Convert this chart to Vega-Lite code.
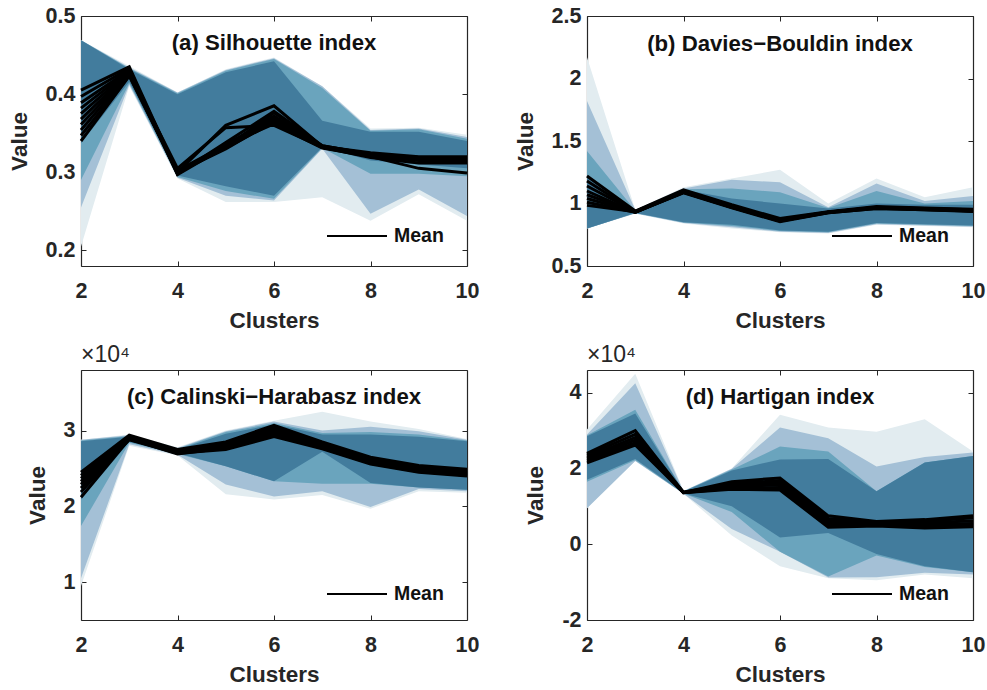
{
  "$schema": "https://vega.github.io/schema/vega-lite/v6.json",
  "background": "white",
  "padding": {"left": 8, "top": 5, "right": 10, "bottom": 5},
  "config": {
    "font": "Liberation Sans",
    "view": {"stroke": null},
    "axis": {
      "grid": false,
      "domainColor": "#262626",
      "domainWidth": 1.2,
      "tickColor": "#262626",
      "tickSize": -5,
      "tickWidth": 1,
      "labelFlush": false,
      "labelColor": "#262626",
      "labelFontSize": 21.5,
      "labelFontWeight": "bold",
      "titleColor": "#262626",
      "titleFontSize": 22.5,
      "titleFontWeight": "bold"
    },
    "legend": {
      "orient": "none",
      "padding": 0,
      "symbolType": "stroke",
      "symbolSize": 3600,
      "symbolStrokeWidth": 2,
      "labelFontSize": 19.5,
      "labelFontWeight": "bold",
      "labelColor": "#111111",
      "labelOffset": 6,
      "title": null
    }
  },
  "datasets": {
    "bands": [
      {"panel":"a","band":"b1","k":2,"lo":0.205,"hi":0.469},{"panel":"a","band":"b1","k":3,"lo":0.41,"hi":0.436},{"panel":"a","band":"b1","k":4,"lo":0.292,"hi":0.402},{"panel":"a","band":"b1","k":5,"lo":0.262,"hi":0.432},{"panel":"a","band":"b1","k":6,"lo":0.262,"hi":0.447},{"panel":"a","band":"b1","k":7,"lo":0.268,"hi":0.41},{"panel":"a","band":"b1","k":8,"lo":0.238,"hi":0.356},{"panel":"a","band":"b1","k":9,"lo":0.272,"hi":0.357},{"panel":"a","band":"b1","k":10,"lo":0.238,"hi":0.348},
      {"panel":"a","band":"b2","k":2,"lo":0.255,"hi":0.469},{"panel":"a","band":"b2","k":3,"lo":0.412,"hi":0.434},{"panel":"a","band":"b2","k":4,"lo":0.293,"hi":0.402},{"panel":"a","band":"b2","k":5,"lo":0.27,"hi":0.431},{"panel":"a","band":"b2","k":6,"lo":0.264,"hi":0.446},{"panel":"a","band":"b2","k":7,"lo":0.33,"hi":0.41},{"panel":"a","band":"b2","k":8,"lo":0.247,"hi":0.354},{"panel":"a","band":"b2","k":9,"lo":0.278,"hi":0.356},{"panel":"a","band":"b2","k":10,"lo":0.244,"hi":0.345},
      {"panel":"a","band":"b3","k":2,"lo":0.29,"hi":0.469},{"panel":"a","band":"b3","k":3,"lo":0.414,"hi":0.433},{"panel":"a","band":"b3","k":4,"lo":0.294,"hi":0.401},{"panel":"a","band":"b3","k":5,"lo":0.276,"hi":0.43},{"panel":"a","band":"b3","k":6,"lo":0.266,"hi":0.445},{"panel":"a","band":"b3","k":7,"lo":0.331,"hi":0.408},{"panel":"a","band":"b3","k":8,"lo":0.298,"hi":0.353},{"panel":"a","band":"b3","k":9,"lo":0.298,"hi":0.355},{"panel":"a","band":"b3","k":10,"lo":0.295,"hi":0.343},
      {"panel":"a","band":"b4","k":2,"lo":0.337,"hi":0.469},{"panel":"a","band":"b4","k":3,"lo":0.416,"hi":0.432},{"panel":"a","band":"b4","k":4,"lo":0.296,"hi":0.4},{"panel":"a","band":"b4","k":5,"lo":0.282,"hi":0.428},{"panel":"a","band":"b4","k":6,"lo":0.27,"hi":0.442},{"panel":"a","band":"b4","k":7,"lo":0.332,"hi":0.366},{"panel":"a","band":"b4","k":8,"lo":0.315,"hi":0.352},{"panel":"a","band":"b4","k":9,"lo":0.31,"hi":0.352},{"panel":"a","band":"b4","k":10,"lo":0.305,"hi":0.34},

      {"panel":"b","band":"b1","k":2,"lo":0.8,"hi":2.17},{"panel":"b","band":"b1","k":3,"lo":0.92,"hi":0.95},{"panel":"b","band":"b1","k":4,"lo":0.84,"hi":1.13},{"panel":"b","band":"b1","k":5,"lo":0.8,"hi":1.2},{"panel":"b","band":"b1","k":6,"lo":0.77,"hi":1.27},{"panel":"b","band":"b1","k":7,"lo":0.76,"hi":1.0},{"panel":"b","band":"b1","k":8,"lo":0.83,"hi":1.2},{"panel":"b","band":"b1","k":9,"lo":0.82,"hi":1.05},{"panel":"b","band":"b1","k":10,"lo":0.81,"hi":1.13},
      {"panel":"b","band":"b2","k":2,"lo":0.8,"hi":1.82},{"panel":"b","band":"b2","k":3,"lo":0.92,"hi":0.95},{"panel":"b","band":"b2","k":4,"lo":0.845,"hi":1.12},{"panel":"b","band":"b2","k":5,"lo":0.81,"hi":1.19},{"panel":"b","band":"b2","k":6,"lo":0.775,"hi":1.17},{"panel":"b","band":"b2","k":7,"lo":0.765,"hi":0.97},{"panel":"b","band":"b2","k":8,"lo":0.835,"hi":1.16},{"panel":"b","band":"b2","k":9,"lo":0.825,"hi":1.02},{"panel":"b","band":"b2","k":10,"lo":0.815,"hi":1.06},
      {"panel":"b","band":"b3","k":2,"lo":0.8,"hi":1.42},{"panel":"b","band":"b3","k":3,"lo":0.925,"hi":0.945},{"panel":"b","band":"b3","k":4,"lo":0.848,"hi":1.115},{"panel":"b","band":"b3","k":5,"lo":0.82,"hi":1.12},{"panel":"b","band":"b3","k":6,"lo":0.78,"hi":1.09},{"panel":"b","band":"b3","k":7,"lo":0.77,"hi":0.965},{"panel":"b","band":"b3","k":8,"lo":0.84,"hi":1.1},{"panel":"b","band":"b3","k":9,"lo":0.83,"hi":1.0},{"panel":"b","band":"b3","k":10,"lo":0.82,"hi":1.02},
      {"panel":"b","band":"b4","k":2,"lo":0.8,"hi":1.22},{"panel":"b","band":"b4","k":3,"lo":0.925,"hi":0.945},{"panel":"b","band":"b4","k":4,"lo":0.85,"hi":1.11},{"panel":"b","band":"b4","k":5,"lo":0.83,"hi":1.04},{"panel":"b","band":"b4","k":6,"lo":0.785,"hi":1.0},{"panel":"b","band":"b4","k":7,"lo":0.775,"hi":0.96},{"panel":"b","band":"b4","k":8,"lo":0.845,"hi":1.0},{"panel":"b","band":"b4","k":9,"lo":0.835,"hi":0.99},{"panel":"b","band":"b4","k":10,"lo":0.825,"hi":0.99},

      {"panel":"c","band":"b1","k":2,"lo":9500,"hi":28800},{"panel":"c","band":"b1","k":3,"lo":28000,"hi":29500},{"panel":"c","band":"b1","k":4,"lo":26700,"hi":27800},{"panel":"c","band":"b1","k":5,"lo":21600,"hi":30000},{"panel":"c","band":"b1","k":6,"lo":20900,"hi":31300},{"panel":"c","band":"b1","k":7,"lo":21500,"hi":32500},{"panel":"c","band":"b1","k":8,"lo":19700,"hi":31200},{"panel":"c","band":"b1","k":9,"lo":22000,"hi":30200},{"panel":"c","band":"b1","k":10,"lo":21800,"hi":28900},
      {"panel":"c","band":"b2","k":2,"lo":10500,"hi":28800},{"panel":"c","band":"b2","k":3,"lo":28200,"hi":29400},{"panel":"c","band":"b2","k":4,"lo":26800,"hi":27700},{"panel":"c","band":"b2","k":5,"lo":22900,"hi":29900},{"panel":"c","band":"b2","k":6,"lo":21300,"hi":31200},{"panel":"c","band":"b2","k":7,"lo":22000,"hi":30000},{"panel":"c","band":"b2","k":8,"lo":19900,"hi":30500},{"panel":"c","band":"b2","k":9,"lo":22300,"hi":29900},{"panel":"c","band":"b2","k":10,"lo":22000,"hi":28800},
      {"panel":"c","band":"b3","k":2,"lo":17400,"hi":28700},{"panel":"c","band":"b3","k":3,"lo":28400,"hi":29300},{"panel":"c","band":"b3","k":4,"lo":26900,"hi":27600},{"panel":"c","band":"b3","k":5,"lo":25300,"hi":29800},{"panel":"c","band":"b3","k":6,"lo":23300,"hi":31000},{"panel":"c","band":"b3","k":7,"lo":23000,"hi":29700},{"panel":"c","band":"b3","k":8,"lo":23000,"hi":29800},{"panel":"c","band":"b3","k":9,"lo":22500,"hi":29500},{"panel":"c","band":"b3","k":10,"lo":22200,"hi":28700},
      {"panel":"c","band":"b4","k":2,"lo":20900,"hi":28600},{"panel":"c","band":"b4","k":3,"lo":28500,"hi":29200},{"panel":"c","band":"b4","k":4,"lo":27000,"hi":27500},{"panel":"c","band":"b4","k":5,"lo":25300,"hi":29600},{"panel":"c","band":"b4","k":6,"lo":23300,"hi":30800},{"panel":"c","band":"b4","k":7,"lo":27200,"hi":29500},{"panel":"c","band":"b4","k":8,"lo":23100,"hi":29500},{"panel":"c","band":"b4","k":9,"lo":22500,"hi":29200},{"panel":"c","band":"b4","k":10,"lo":22200,"hi":28600},

      {"panel":"d","band":"b1","k":2,"lo":9500,"hi":30300},{"panel":"d","band":"b1","k":3,"lo":22000,"hi":45000},{"panel":"d","band":"b1","k":4,"lo":13300,"hi":14100},{"panel":"d","band":"b1","k":5,"lo":2300,"hi":20000},{"panel":"d","band":"b1","k":6,"lo":-5800,"hi":34200},{"panel":"d","band":"b1","k":7,"lo":-9000,"hi":30800},{"panel":"d","band":"b1","k":8,"lo":-9500,"hi":29700},{"panel":"d","band":"b1","k":9,"lo":-8000,"hi":33000},{"panel":"d","band":"b1","k":10,"lo":-9000,"hi":24500},
      {"panel":"d","band":"b2","k":2,"lo":9500,"hi":29000},{"panel":"d","band":"b2","k":3,"lo":22000,"hi":42500},{"panel":"d","band":"b2","k":4,"lo":13300,"hi":14000},{"panel":"d","band":"b2","k":5,"lo":4000,"hi":19900},{"panel":"d","band":"b2","k":6,"lo":-2000,"hi":30800},{"panel":"d","band":"b2","k":7,"lo":-8800,"hi":28000},{"panel":"d","band":"b2","k":8,"lo":-8700,"hi":20500},{"panel":"d","band":"b2","k":9,"lo":-7500,"hi":23000},{"panel":"d","band":"b2","k":10,"lo":-8000,"hi":24200},
      {"panel":"d","band":"b3","k":2,"lo":16500,"hi":28800},{"panel":"d","band":"b3","k":3,"lo":22200,"hi":35500},{"panel":"d","band":"b3","k":4,"lo":13400,"hi":14000},{"panel":"d","band":"b3","k":5,"lo":8500,"hi":19700},{"panel":"d","band":"b3","k":6,"lo":-2000,"hi":25800},{"panel":"d","band":"b3","k":7,"lo":-8500,"hi":24500},{"panel":"d","band":"b3","k":8,"lo":-3000,"hi":14000},{"panel":"d","band":"b3","k":9,"lo":-6000,"hi":21600},{"panel":"d","band":"b3","k":10,"lo":-7400,"hi":23300},
      {"panel":"d","band":"b4","k":2,"lo":17000,"hi":28500},{"panel":"d","band":"b4","k":3,"lo":22500,"hi":34500},{"panel":"d","band":"b4","k":4,"lo":13400,"hi":13900},{"panel":"d","band":"b4","k":5,"lo":10000,"hi":19500},{"panel":"d","band":"b4","k":6,"lo":1800,"hi":22400},{"panel":"d","band":"b4","k":7,"lo":3000,"hi":22500},{"panel":"d","band":"b4","k":8,"lo":-2600,"hi":14000},{"panel":"d","band":"b4","k":9,"lo":-5800,"hi":21600},{"panel":"d","band":"b4","k":10,"lo":-7400,"hi":23300}
    ],
    "means": [
      {"panel":"a","run":1,"k":2,"v":0.405},{"panel":"a","run":1,"k":3,"v":0.435},{"panel":"a","run":1,"k":4,"v":0.3},{"panel":"a","run":1,"k":5,"v":0.36},{"panel":"a","run":1,"k":6,"v":0.385},{"panel":"a","run":1,"k":7,"v":0.333},{"panel":"a","run":1,"k":8,"v":0.325},{"panel":"a","run":1,"k":9,"v":0.32},{"panel":"a","run":1,"k":10,"v":0.32},
      {"panel":"a","run":2,"k":2,"v":0.397},{"panel":"a","run":2,"k":3,"v":0.433},{"panel":"a","run":2,"k":4,"v":0.298},{"panel":"a","run":2,"k":5,"v":0.338},{"panel":"a","run":2,"k":6,"v":0.378},{"panel":"a","run":2,"k":7,"v":0.334},{"panel":"a","run":2,"k":8,"v":0.323},{"panel":"a","run":2,"k":9,"v":0.318},{"panel":"a","run":2,"k":10,"v":0.316},
      {"panel":"a","run":3,"k":2,"v":0.389},{"panel":"a","run":3,"k":3,"v":0.431},{"panel":"a","run":3,"k":4,"v":0.297},{"panel":"a","run":3,"k":5,"v":0.333},{"panel":"a","run":3,"k":6,"v":0.372},{"panel":"a","run":3,"k":7,"v":0.332},{"panel":"a","run":3,"k":8,"v":0.322},{"panel":"a","run":3,"k":9,"v":0.316},{"panel":"a","run":3,"k":10,"v":0.314},
      {"panel":"a","run":4,"k":2,"v":0.382},{"panel":"a","run":4,"k":3,"v":0.43},{"panel":"a","run":4,"k":4,"v":0.3},{"panel":"a","run":4,"k":5,"v":0.33},{"panel":"a","run":4,"k":6,"v":0.366},{"panel":"a","run":4,"k":7,"v":0.333},{"panel":"a","run":4,"k":8,"v":0.321},{"panel":"a","run":4,"k":9,"v":0.317},{"panel":"a","run":4,"k":10,"v":0.318},
      {"panel":"a","run":5,"k":2,"v":0.375},{"panel":"a","run":5,"k":3,"v":0.429},{"panel":"a","run":5,"k":4,"v":0.302},{"panel":"a","run":5,"k":5,"v":0.335},{"panel":"a","run":5,"k":6,"v":0.362},{"panel":"a","run":5,"k":7,"v":0.331},{"panel":"a","run":5,"k":8,"v":0.32},{"panel":"a","run":5,"k":9,"v":0.305},{"panel":"a","run":5,"k":10,"v":0.299},
      {"panel":"a","run":6,"k":2,"v":0.368},{"panel":"a","run":6,"k":3,"v":0.428},{"panel":"a","run":6,"k":4,"v":0.305},{"panel":"a","run":6,"k":5,"v":0.357},{"panel":"a","run":6,"k":6,"v":0.36},{"panel":"a","run":6,"k":7,"v":0.332},{"panel":"a","run":6,"k":8,"v":0.319},{"panel":"a","run":6,"k":9,"v":0.312},{"panel":"a","run":6,"k":10,"v":0.312},
      {"panel":"a","run":7,"k":2,"v":0.361},{"panel":"a","run":7,"k":3,"v":0.427},{"panel":"a","run":7,"k":4,"v":0.299},{"panel":"a","run":7,"k":5,"v":0.332},{"panel":"a","run":7,"k":6,"v":0.376},{"panel":"a","run":7,"k":7,"v":0.333},{"panel":"a","run":7,"k":8,"v":0.322},{"panel":"a","run":7,"k":9,"v":0.319},{"panel":"a","run":7,"k":10,"v":0.317},
      {"panel":"a","run":8,"k":2,"v":0.354},{"panel":"a","run":8,"k":3,"v":0.426},{"panel":"a","run":8,"k":4,"v":0.298},{"panel":"a","run":8,"k":5,"v":0.336},{"panel":"a","run":8,"k":6,"v":0.368},{"panel":"a","run":8,"k":7,"v":0.332},{"panel":"a","run":8,"k":8,"v":0.321},{"panel":"a","run":8,"k":9,"v":0.315},{"panel":"a","run":8,"k":10,"v":0.315},
      {"panel":"a","run":9,"k":2,"v":0.347},{"panel":"a","run":9,"k":3,"v":0.424},{"panel":"a","run":9,"k":4,"v":0.301},{"panel":"a","run":9,"k":5,"v":0.331},{"panel":"a","run":9,"k":6,"v":0.364},{"panel":"a","run":9,"k":7,"v":0.334},{"panel":"a","run":9,"k":8,"v":0.323},{"panel":"a","run":9,"k":9,"v":0.318},{"panel":"a","run":9,"k":10,"v":0.319},
      {"panel":"a","run":10,"k":2,"v":0.34},{"panel":"a","run":10,"k":3,"v":0.423},{"panel":"a","run":10,"k":4,"v":0.3},{"panel":"a","run":10,"k":5,"v":0.334},{"panel":"a","run":10,"k":6,"v":0.37},{"panel":"a","run":10,"k":7,"v":0.333},{"panel":"a","run":10,"k":8,"v":0.322},{"panel":"a","run":10,"k":9,"v":0.317},{"panel":"a","run":10,"k":10,"v":0.316},

      {"panel":"b","run":1,"k":2,"v":1.22},{"panel":"b","run":1,"k":3,"v":0.94},{"panel":"b","run":1,"k":4,"v":1.11},{"panel":"b","run":1,"k":5,"v":0.99},{"panel":"b","run":1,"k":6,"v":0.88},{"panel":"b","run":1,"k":7,"v":0.935},{"panel":"b","run":1,"k":8,"v":0.975},{"panel":"b","run":1,"k":9,"v":0.965},{"panel":"b","run":1,"k":10,"v":0.955},
      {"panel":"b","run":2,"k":2,"v":1.18},{"panel":"b","run":2,"k":3,"v":0.935},{"panel":"b","run":2,"k":4,"v":1.1},{"panel":"b","run":2,"k":5,"v":0.98},{"panel":"b","run":2,"k":6,"v":0.87},{"panel":"b","run":2,"k":7,"v":0.93},{"panel":"b","run":2,"k":8,"v":0.97},{"panel":"b","run":2,"k":9,"v":0.96},{"panel":"b","run":2,"k":10,"v":0.95},
      {"panel":"b","run":3,"k":2,"v":1.14},{"panel":"b","run":3,"k":3,"v":0.935},{"panel":"b","run":3,"k":4,"v":1.095},{"panel":"b","run":3,"k":5,"v":0.975},{"panel":"b","run":3,"k":6,"v":0.865},{"panel":"b","run":3,"k":7,"v":0.93},{"panel":"b","run":3,"k":8,"v":0.965},{"panel":"b","run":3,"k":9,"v":0.955},{"panel":"b","run":3,"k":10,"v":0.945},
      {"panel":"b","run":4,"k":2,"v":1.1},{"panel":"b","run":4,"k":3,"v":0.93},{"panel":"b","run":4,"k":4,"v":1.09},{"panel":"b","run":4,"k":5,"v":0.97},{"panel":"b","run":4,"k":6,"v":0.86},{"panel":"b","run":4,"k":7,"v":0.925},{"panel":"b","run":4,"k":8,"v":0.96},{"panel":"b","run":4,"k":9,"v":0.95},{"panel":"b","run":4,"k":10,"v":0.94},
      {"panel":"b","run":5,"k":2,"v":1.07},{"panel":"b","run":5,"k":3,"v":0.93},{"panel":"b","run":5,"k":4,"v":1.085},{"panel":"b","run":5,"k":5,"v":0.965},{"panel":"b","run":5,"k":6,"v":0.855},{"panel":"b","run":5,"k":7,"v":0.925},{"panel":"b","run":5,"k":8,"v":0.96},{"panel":"b","run":5,"k":9,"v":0.95},{"panel":"b","run":5,"k":10,"v":0.935},
      {"panel":"b","run":6,"k":2,"v":1.04},{"panel":"b","run":6,"k":3,"v":0.93},{"panel":"b","run":6,"k":4,"v":1.09},{"panel":"b","run":6,"k":5,"v":0.97},{"panel":"b","run":6,"k":6,"v":0.86},{"panel":"b","run":6,"k":7,"v":0.93},{"panel":"b","run":6,"k":8,"v":0.965},{"panel":"b","run":6,"k":9,"v":0.955},{"panel":"b","run":6,"k":10,"v":0.94},
      {"panel":"b","run":7,"k":2,"v":1.01},{"panel":"b","run":7,"k":3,"v":0.93},{"panel":"b","run":7,"k":4,"v":1.095},{"panel":"b","run":7,"k":5,"v":0.975},{"panel":"b","run":7,"k":6,"v":0.865},{"panel":"b","run":7,"k":7,"v":0.93},{"panel":"b","run":7,"k":8,"v":0.968},{"panel":"b","run":7,"k":9,"v":0.958},{"panel":"b","run":7,"k":10,"v":0.945},
      {"panel":"b","run":8,"k":2,"v":0.985},{"panel":"b","run":8,"k":3,"v":0.935},{"panel":"b","run":8,"k":4,"v":1.1},{"panel":"b","run":8,"k":5,"v":0.98},{"panel":"b","run":8,"k":6,"v":0.87},{"panel":"b","run":8,"k":7,"v":0.932},{"panel":"b","run":8,"k":8,"v":0.965},{"panel":"b","run":8,"k":9,"v":0.952},{"panel":"b","run":8,"k":10,"v":0.942},

      {"panel":"c","run":1,"k":2,"v":24500},{"panel":"c","run":1,"k":3,"v":29400},{"panel":"c","run":1,"k":4,"v":27500},{"panel":"c","run":1,"k":5,"v":28500},{"panel":"c","run":1,"k":6,"v":30700},{"panel":"c","run":1,"k":7,"v":28500},{"panel":"c","run":1,"k":8,"v":26500},{"panel":"c","run":1,"k":9,"v":25400},{"panel":"c","run":1,"k":10,"v":24900},
      {"panel":"c","run":2,"k":2,"v":24100},{"panel":"c","run":2,"k":3,"v":29250},{"panel":"c","run":2,"k":4,"v":27300},{"panel":"c","run":2,"k":5,"v":28300},{"panel":"c","run":2,"k":6,"v":30400},{"panel":"c","run":2,"k":7,"v":28300},{"panel":"c","run":2,"k":8,"v":26300},{"panel":"c","run":2,"k":9,"v":25200},{"panel":"c","run":2,"k":10,"v":24700},
      {"panel":"c","run":3,"k":2,"v":23700},{"panel":"c","run":3,"k":3,"v":29100},{"panel":"c","run":3,"k":4,"v":27150},{"panel":"c","run":3,"k":5,"v":28100},{"panel":"c","run":3,"k":6,"v":30100},{"panel":"c","run":3,"k":7,"v":28100},{"panel":"c","run":3,"k":8,"v":26100},{"panel":"c","run":3,"k":9,"v":25000},{"panel":"c","run":3,"k":10,"v":24500},
      {"panel":"c","run":4,"k":2,"v":23300},{"panel":"c","run":4,"k":3,"v":29000},{"panel":"c","run":4,"k":4,"v":27000},{"panel":"c","run":4,"k":5,"v":27900},{"panel":"c","run":4,"k":6,"v":29800},{"panel":"c","run":4,"k":7,"v":27900},{"panel":"c","run":4,"k":8,"v":25900},{"panel":"c","run":4,"k":9,"v":24800},{"panel":"c","run":4,"k":10,"v":24300},
      {"panel":"c","run":5,"k":2,"v":22900},{"panel":"c","run":5,"k":3,"v":28900},{"panel":"c","run":5,"k":4,"v":26900},{"panel":"c","run":5,"k":5,"v":27700},{"panel":"c","run":5,"k":6,"v":29400},{"panel":"c","run":5,"k":7,"v":27700},{"panel":"c","run":5,"k":8,"v":25700},{"panel":"c","run":5,"k":9,"v":24600},{"panel":"c","run":5,"k":10,"v":24100},
      {"panel":"c","run":6,"k":2,"v":22400},{"panel":"c","run":6,"k":3,"v":28800},{"panel":"c","run":6,"k":4,"v":27000},{"panel":"c","run":6,"k":5,"v":27500},{"panel":"c","run":6,"k":6,"v":29200},{"panel":"c","run":6,"k":7,"v":27600},{"panel":"c","run":6,"k":8,"v":25600},{"panel":"c","run":6,"k":9,"v":24500},{"panel":"c","run":6,"k":10,"v":24000},
      {"panel":"c","run":7,"k":2,"v":21900},{"panel":"c","run":7,"k":3,"v":28850},{"panel":"c","run":7,"k":4,"v":27100},{"panel":"c","run":7,"k":5,"v":27800},{"panel":"c","run":7,"k":6,"v":29600},{"panel":"c","run":7,"k":7,"v":27800},{"panel":"c","run":7,"k":8,"v":25800},{"panel":"c","run":7,"k":9,"v":24700},{"panel":"c","run":7,"k":10,"v":24200},
      {"panel":"c","run":8,"k":2,"v":21200},{"panel":"c","run":8,"k":3,"v":28900},{"panel":"c","run":8,"k":4,"v":27200},{"panel":"c","run":8,"k":5,"v":28000},{"panel":"c","run":8,"k":6,"v":30000},{"panel":"c","run":8,"k":7,"v":28000},{"panel":"c","run":8,"k":8,"v":26000},{"panel":"c","run":8,"k":9,"v":24900},{"panel":"c","run":8,"k":10,"v":24400},

      {"panel":"d","run":1,"k":2,"v":24000},{"panel":"d","run":1,"k":3,"v":30000},{"panel":"d","run":1,"k":4,"v":13700},{"panel":"d","run":1,"k":5,"v":16500},{"panel":"d","run":1,"k":6,"v":17500},{"panel":"d","run":1,"k":7,"v":7500},{"panel":"d","run":1,"k":8,"v":6000},{"panel":"d","run":1,"k":9,"v":6500},{"panel":"d","run":1,"k":10,"v":7500},
      {"panel":"d","run":2,"k":2,"v":23500},{"panel":"d","run":2,"k":3,"v":29000},{"panel":"d","run":2,"k":4,"v":13700},{"panel":"d","run":2,"k":5,"v":16000},{"panel":"d","run":2,"k":6,"v":16800},{"panel":"d","run":2,"k":7,"v":6800},{"panel":"d","run":2,"k":8,"v":5800},{"panel":"d","run":2,"k":9,"v":6000},{"panel":"d","run":2,"k":10,"v":7000},
      {"panel":"d","run":3,"k":2,"v":23000},{"panel":"d","run":3,"k":3,"v":28200},{"panel":"d","run":3,"k":4,"v":13700},{"panel":"d","run":3,"k":5,"v":15600},{"panel":"d","run":3,"k":6,"v":16200},{"panel":"d","run":3,"k":7,"v":6200},{"panel":"d","run":3,"k":8,"v":5600},{"panel":"d","run":3,"k":9,"v":5600},{"panel":"d","run":3,"k":10,"v":6200},
      {"panel":"d","run":4,"k":2,"v":22500},{"panel":"d","run":4,"k":3,"v":27500},{"panel":"d","run":4,"k":4,"v":13600},{"panel":"d","run":4,"k":5,"v":15200},{"panel":"d","run":4,"k":6,"v":15700},{"panel":"d","run":4,"k":7,"v":5600},{"panel":"d","run":4,"k":8,"v":5300},{"panel":"d","run":4,"k":9,"v":5200},{"panel":"d","run":4,"k":10,"v":5500},
      {"panel":"d","run":5,"k":2,"v":22000},{"panel":"d","run":5,"k":3,"v":26800},{"panel":"d","run":5,"k":4,"v":13600},{"panel":"d","run":5,"k":5,"v":14800},{"panel":"d","run":5,"k":6,"v":15000},{"panel":"d","run":5,"k":7,"v":5000},{"panel":"d","run":5,"k":8,"v":5000},{"panel":"d","run":5,"k":9,"v":4800},{"panel":"d","run":5,"k":10,"v":5000},
      {"panel":"d","run":6,"k":2,"v":21500},{"panel":"d","run":6,"k":3,"v":26200},{"panel":"d","run":6,"k":4,"v":13600},{"panel":"d","run":6,"k":5,"v":14500},{"panel":"d","run":6,"k":6,"v":14300},{"panel":"d","run":6,"k":7,"v":4500},{"panel":"d","run":6,"k":8,"v":4800},{"panel":"d","run":6,"k":9,"v":4300},{"panel":"d","run":6,"k":10,"v":4600}
    ],
    "labels": [
      {"panel":"a","k":6,"v":0.465,"label":"(a) Silhouette index"},
      {"panel":"b","k":6,"v":2.276,"label":"(b) Davies\u2212Bouldin index"},
      {"panel":"c","k":6,"v":34470,"label":"(c) Calinski\u2212Harabasz index"},
      {"panel":"d","k":6,"v":38950,"label":"(d) Hartigan index"}
    ]
  },
  "columns": 2,
  "bounds": "flush",
  "spacing": {"row": 104, "column": 120},
  "resolve": {
    "scale": {"x": "independent", "y": "independent", "fill": "independent", "stroke": "independent"},
    "legend": {"fill": "independent", "stroke": "independent"}
  },
  "concat": [
    {
      "width": 386, "height": 250,
      "layer": [
        {
          "data": {"name": "bands"},
          "transform": [{"filter": "datum.panel === 'a'"}],
          "mark": {"type": "area", "opacity": 1},
          "encoding": {
            "x": {"field": "k", "type": "quantitative", "scale": {"domain": [2, 10], "nice": false}, "axis": {"values": [2, 4, 6, 8, 10], "title": "Clusters", "orient": "bottom", "labelPadding": 19, "titlePadding": 8}},
            "y": {"field": "lo", "type": "quantitative", "scale": {"domain": [0.18, 0.5], "nice": false, "zero": false}, "axis": {"values": [0.2, 0.3, 0.4, 0.5], "format": "~g", "title": "Value", "orient": "left", "labelPadding": 11, "titlePadding": 14}},
            "y2": {"field": "hi"},
            "fill": {"field": "band", "type": "nominal", "scale": {"domain": ["b1", "b2", "b3", "b4"], "range": ["#e2ecf0", "#a4c0d6", "#6aa4bd", "#427c9d"]}, "legend": null}
          }
        },
        {
          "data": {"name": "means"},
          "transform": [{"filter": "datum.panel === 'a'"}],
          "mark": {"type": "line", "strokeWidth": 3},
          "encoding": {
            "x": {"field": "k", "type": "quantitative", "axis": {"orient": "top", "values": [2, 4, 6, 8, 10], "labels": false, "title": null}},
            "y": {"field": "v", "type": "quantitative", "axis": {"orient": "right", "values": [0.2, 0.3, 0.4, 0.5], "labels": false, "title": null}},
            "detail": {"field": "run"},
            "stroke": {"datum": "Mean", "scale": {"range": ["#000000"]}, "legend": {"legendX": 245, "legendY": 189}}
          }
        },
        {
          "data": {"name": "labels"},
          "transform": [{"filter": "datum.panel === 'a'"}],
          "mark": {"type": "text", "fontSize": 22.2, "fontWeight": "bold", "align": "center", "baseline": "middle", "color": "#111111"},
          "encoding": {
            "x": {"field": "k", "type": "quantitative", "axis": null},
            "y": {"field": "v", "type": "quantitative", "axis": null},
            "text": {"field": "label"}
          }
        }
      ],
      "resolve": {"axis": {"x": "independent", "y": "independent"}}
    },
    {
      "width": 386, "height": 250,
      "layer": [
        {
          "data": {"name": "bands"},
          "transform": [{"filter": "datum.panel === 'b'"}],
          "mark": {"type": "area", "opacity": 1},
          "encoding": {
            "x": {"field": "k", "type": "quantitative", "scale": {"domain": [2, 10], "nice": false}, "axis": {"values": [2, 4, 6, 8, 10], "title": "Clusters", "orient": "bottom", "labelPadding": 19, "titlePadding": 8}},
            "y": {"field": "lo", "type": "quantitative", "scale": {"domain": [0.5, 2.5], "nice": false, "zero": false}, "axis": {"values": [0.5, 1, 1.5, 2, 2.5], "format": "~g", "title": "Value", "orient": "left", "labelPadding": 11, "titlePadding": 14}},
            "y2": {"field": "hi"},
            "fill": {"field": "band", "type": "nominal", "scale": {"domain": ["b1", "b2", "b3", "b4"], "range": ["#e2ecf0", "#a4c0d6", "#6aa4bd", "#427c9d"]}, "legend": null}
          }
        },
        {
          "data": {"name": "means"},
          "transform": [{"filter": "datum.panel === 'b'"}],
          "mark": {"type": "line", "strokeWidth": 3},
          "encoding": {
            "x": {"field": "k", "type": "quantitative", "axis": {"orient": "top", "values": [2, 4, 6, 8, 10], "labels": false, "title": null}},
            "y": {"field": "v", "type": "quantitative", "axis": {"orient": "right", "values": [0.5, 1, 1.5, 2, 2.5], "labels": false, "title": null}},
            "detail": {"field": "run"},
            "stroke": {"datum": "Mean", "scale": {"range": ["#000000"]}, "legend": {"legendX": 244, "legendY": 189}}
          }
        },
        {
          "data": {"name": "labels"},
          "transform": [{"filter": "datum.panel === 'b'"}],
          "mark": {"type": "text", "fontSize": 22.2, "fontWeight": "bold", "align": "center", "baseline": "middle", "color": "#111111"},
          "encoding": {
            "x": {"field": "k", "type": "quantitative", "axis": null},
            "y": {"field": "v", "type": "quantitative", "axis": null},
            "text": {"field": "label"}
          }
        }
      ],
      "resolve": {"axis": {"x": "independent", "y": "independent"}}
    },
    {
      "width": 386, "height": 250,
      "title": {"text": "\u00d710\u2074", "anchor": "start", "frame": "group", "fontSize": 23, "fontWeight": "normal", "color": "#262626", "offset": 3},
      "layer": [
        {
          "data": {"name": "bands"},
          "transform": [{"filter": "datum.panel === 'c'"}],
          "mark": {"type": "area", "opacity": 1},
          "encoding": {
            "x": {"field": "k", "type": "quantitative", "scale": {"domain": [2, 10], "nice": false}, "axis": {"values": [2, 4, 6, 8, 10], "title": "Clusters", "orient": "bottom", "labelPadding": 19, "titlePadding": 8}},
            "y": {"field": "lo", "type": "quantitative", "scale": {"domain": [5000, 38000], "nice": false, "zero": false}, "axis": {"values": [10000, 20000, 30000], "labelExpr": "datum.value / 10000", "title": "Value", "orient": "left", "labelPadding": 11, "titlePadding": 14}},
            "y2": {"field": "hi"},
            "fill": {"field": "band", "type": "nominal", "scale": {"domain": ["b1", "b2", "b3", "b4"], "range": ["#e2ecf0", "#a4c0d6", "#6aa4bd", "#427c9d"]}, "legend": null}
          }
        },
        {
          "data": {"name": "means"},
          "transform": [{"filter": "datum.panel === 'c'"}],
          "mark": {"type": "line", "strokeWidth": 3},
          "encoding": {
            "x": {"field": "k", "type": "quantitative", "axis": {"orient": "top", "values": [2, 4, 6, 8, 10], "labels": false, "title": null}},
            "y": {"field": "v", "type": "quantitative", "axis": {"orient": "right", "values": [10000, 20000, 30000], "labels": false, "title": null}},
            "detail": {"field": "run"},
            "stroke": {"datum": "Mean", "scale": {"range": ["#000000"]}, "legend": {"legendX": 245, "legendY": 193}}
          }
        },
        {
          "data": {"name": "labels"},
          "transform": [{"filter": "datum.panel === 'c'"}],
          "mark": {"type": "text", "fontSize": 22.2, "fontWeight": "bold", "align": "center", "baseline": "middle", "color": "#111111"},
          "encoding": {
            "x": {"field": "k", "type": "quantitative", "axis": null},
            "y": {"field": "v", "type": "quantitative", "axis": null},
            "text": {"field": "label"}
          }
        }
      ],
      "resolve": {"axis": {"x": "independent", "y": "independent"}}
    },
    {
      "width": 386, "height": 250,
      "title": {"text": "\u00d710\u2074", "anchor": "start", "frame": "group", "fontSize": 23, "fontWeight": "normal", "color": "#262626", "offset": 3},
      "layer": [
        {
          "data": {"name": "bands"},
          "transform": [{"filter": "datum.panel === 'd'"}],
          "mark": {"type": "area", "opacity": 1},
          "encoding": {
            "x": {"field": "k", "type": "quantitative", "scale": {"domain": [2, 10], "nice": false}, "axis": {"values": [2, 4, 6, 8, 10], "title": "Clusters", "orient": "bottom", "labelPadding": 19, "titlePadding": 8}},
            "y": {"field": "lo", "type": "quantitative", "scale": {"domain": [-20000, 46000], "nice": false, "zero": false}, "axis": {"values": [-20000, 0, 20000, 40000], "labelExpr": "datum.value / 10000", "title": "Value", "orient": "left", "labelPadding": 11, "titlePadding": 14}},
            "y2": {"field": "hi"},
            "fill": {"field": "band", "type": "nominal", "scale": {"domain": ["b1", "b2", "b3", "b4"], "range": ["#e2ecf0", "#a4c0d6", "#6aa4bd", "#427c9d"]}, "legend": null}
          }
        },
        {
          "data": {"name": "means"},
          "transform": [{"filter": "datum.panel === 'd'"}],
          "mark": {"type": "line", "strokeWidth": 3},
          "encoding": {
            "x": {"field": "k", "type": "quantitative", "axis": {"orient": "top", "values": [2, 4, 6, 8, 10], "labels": false, "title": null}},
            "y": {"field": "v", "type": "quantitative", "axis": {"orient": "right", "values": [-20000, 0, 20000, 40000], "labels": false, "title": null}},
            "detail": {"field": "run"},
            "stroke": {"datum": "Mean", "scale": {"range": ["#000000"]}, "legend": {"legendX": 244, "legendY": 193}}
          }
        },
        {
          "data": {"name": "labels"},
          "transform": [{"filter": "datum.panel === 'd'"}],
          "mark": {"type": "text", "fontSize": 22.2, "fontWeight": "bold", "align": "center", "baseline": "middle", "color": "#111111"},
          "encoding": {
            "x": {"field": "k", "type": "quantitative", "axis": null},
            "y": {"field": "v", "type": "quantitative", "axis": null},
            "text": {"field": "label"}
          }
        }
      ],
      "resolve": {"axis": {"x": "independent", "y": "independent"}}
    }
  ]
}
